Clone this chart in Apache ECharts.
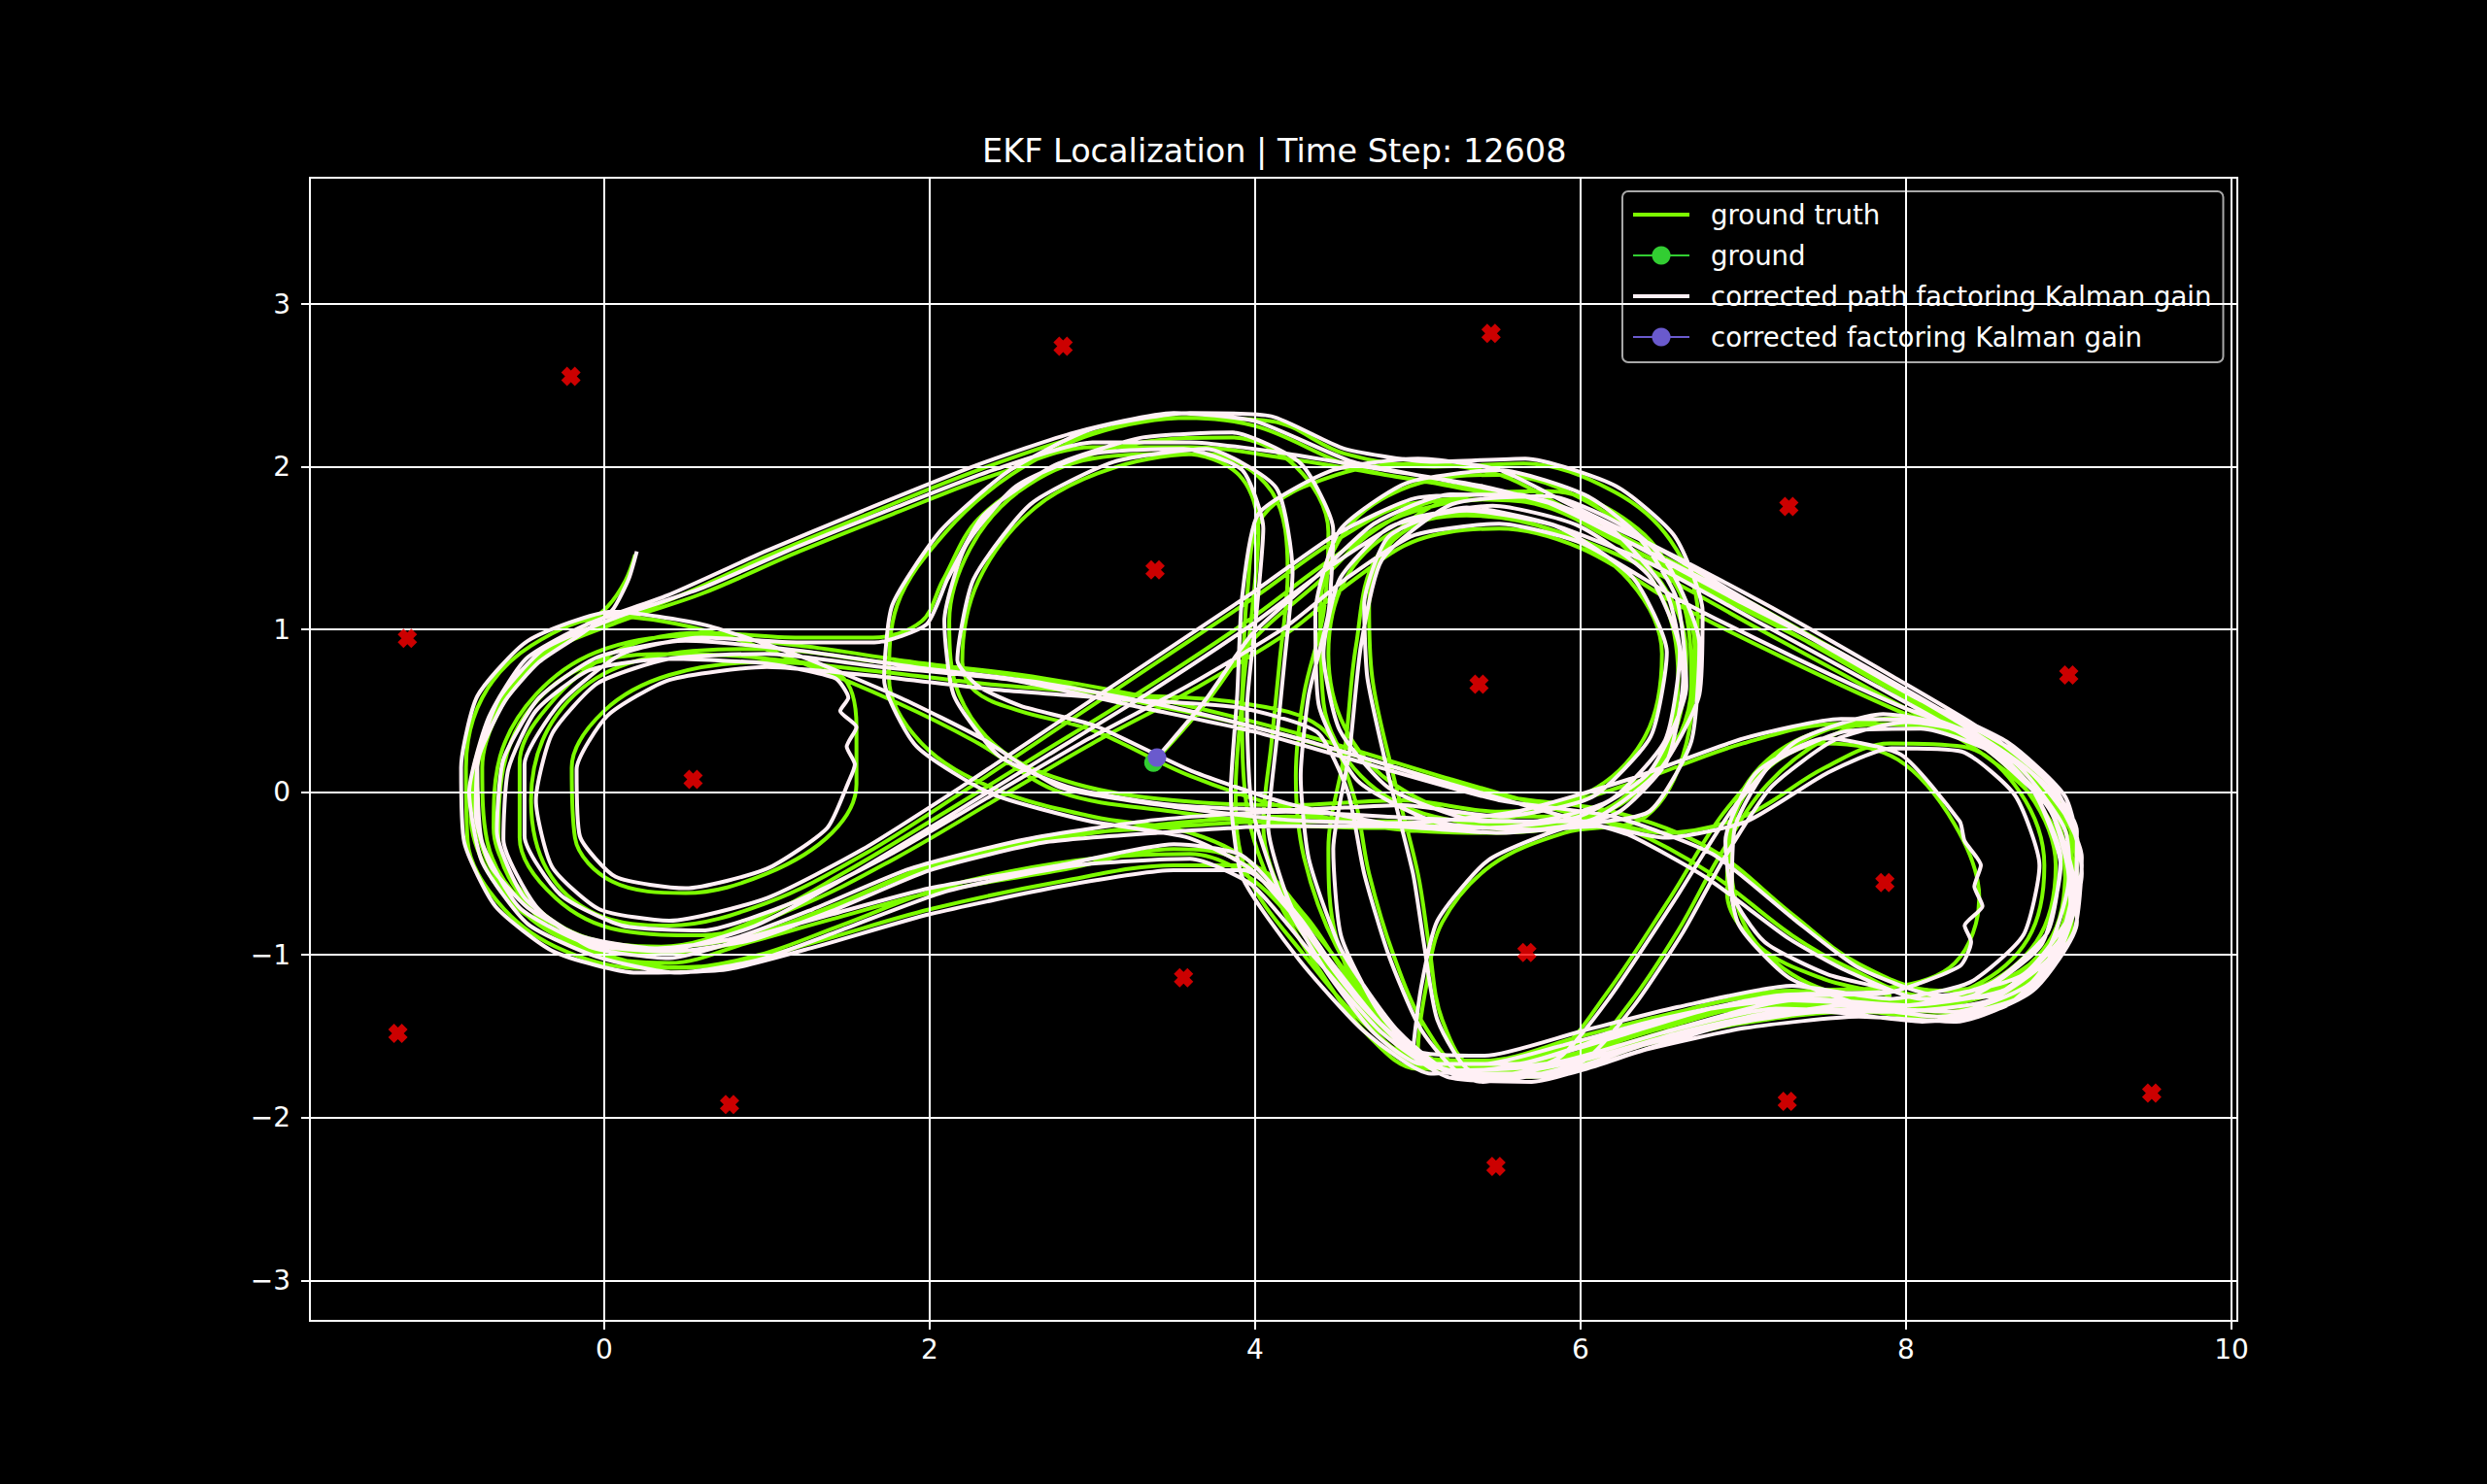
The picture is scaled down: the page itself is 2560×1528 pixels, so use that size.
<!DOCTYPE html>
<html>
<head>
<meta charset="utf-8">
<script src="https://cdn.jsdelivr.net/npm/echarts@6/dist/echarts.min.js"></script>
<style>
html,body{margin:0;padding:0;background:#000;}
#chart{width:2560px;height:1528px;}
</style>
</head>
<body>
<div id="chart"></div>
<script>
const titleText = 'EKF Localization | Time Step: 12608';
const xTicks = [0, 2, 4, 6, 8, 10];
const yTicks = [-3, -2, -1, 0, 1, 2, 3];
const legendNames = ['ground truth', 'ground', 'corrected path factoring Kalman gain', 'corrected factoring Kalman gain'];

const landmarks = [[-0.205,2.556],[2.82,2.74],[5.45,2.82],[7.28,1.756],[9.0,0.72],[-1.21,0.946],[0.546,0.078],[3.385,1.366],[5.376,0.663],[7.87,-0.556],[-1.268,-1.483],[0.77,-1.92],[3.56,-1.14],[5.67,-0.985],[5.48,-2.30],[7.27,-1.90],[9.51,-1.85]];

const groundNow = [[3.375,0.182]];
const correctedNow = [[3.397,0.213]];

const gtLap1 = [[0.19,1.46],[0.13,1.30],[0.02,1.14],[-0.15,1.00],[-0.42,0.82],[-0.64,0.55],[-0.79,0.20],[-0.82,-0.15],[-0.72,-0.48],[-0.50,-0.74],[-0.15,-0.92],[0.30,-0.99],[0.80,-0.93],[1.30,-0.75],[1.90,-0.50],[2.60,-0.32],[3.40,-0.20],[4.20,-0.15],[5.00,-0.20],[5.70,-0.22],[6.20,-0.08],[6.55,0.30],[6.65,0.85],[6.45,1.35],[6.00,1.68],[5.45,1.80],[4.90,1.70],[4.45,1.42],[3.95,1.05],[3.30,0.62],[2.70,0.25],[2.10,-0.12],[1.50,-0.48],[0.90,-0.80],[0.35,-0.95],[-0.15,-0.88],[-0.50,-0.62],[-0.68,-0.22],[-0.64,0.22],[-0.42,0.60],[-0.05,0.86],[0.50,0.96],[1.20,0.90],[1.90,0.80],[2.70,0.70],[3.50,0.55],[4.30,0.35],[5.20,0.08],[5.90,-0.12],[6.30,-0.23],[6.80,-0.50],[7.30,-0.88],[7.65,-1.08],[8.10,-1.25],[8.55,-1.22],[8.90,-0.95],[9.03,-0.52],[8.92,-0.10],[8.60,0.25],[8.10,0.42],[7.60,0.40],[7.15,0.20],[6.92,-0.20],[6.90,-0.62],[7.10,-0.95],[7.50,-1.15],[7.90,-1.25]];
const gtLap2 = [[7.20,-1.28],[6.50,-1.42],[5.90,-1.58],[5.40,-1.70],[5.00,-1.70],[4.70,-1.50],[4.40,-1.10],[4.12,-0.62],[3.95,-0.10],[3.92,0.50],[3.98,1.10],[4.02,1.60],[3.90,1.95],[3.55,2.08],[3.00,2.05],[2.55,1.85],[2.25,1.50],[2.12,1.05],[2.18,0.60],[2.45,0.25],[2.90,0.05],[3.50,-0.05],[4.20,-0.08],[4.90,-0.05],[5.50,-0.12],[6.05,0.00],[6.40,0.35],[6.50,0.85],[6.30,1.30],[5.85,1.60],[5.30,1.70],[4.85,1.60],[4.55,1.30],[4.45,0.85],[4.55,0.40],[4.85,0.05],[5.40,-0.15],[6.00,-0.15],[6.45,0.15],[6.70,0.60],[6.72,1.10],[6.55,1.55],[6.20,1.85],[5.65,2.02],[5.10,2.00],[4.55,2.08],[4.10,2.28],[3.60,2.30],[3.00,2.20],[2.50,1.95],[2.10,1.60],[1.80,1.15],[1.75,0.70],[1.95,0.30],[2.40,0.02],[3.00,-0.15],[3.60,-0.25],[4.00,-0.45],[4.40,-0.90],[4.80,-1.40],[5.20,-1.68],[5.80,-1.65],[6.50,-1.45],[7.20,-1.30],[7.90,-1.32],[8.50,-1.25],[8.88,-0.98],[9.00,-0.55],[8.85,-0.12],[8.45,0.25],[7.80,0.62],[7.10,1.00],[6.40,1.38],[5.80,1.62],[5.30,1.72],[4.85,1.55],[4.70,1.15],[4.72,0.70],[4.85,0.10],[5.00,-0.50],[5.07,-0.95],[5.15,-1.40],[5.35,-1.68],[5.90,-1.62],[6.60,-1.42],[7.30,-1.25],[8.00,-1.28],[8.60,-1.18],[8.95,-0.85],[9.05,-0.45],[8.90,-0.02],[8.50,0.32],[7.90,0.68],[7.20,1.08],[6.50,1.45],[5.95,1.70],[5.40,1.85],[4.80,1.95],[4.20,2.05],[3.60,2.12],[3.00,2.12],[2.40,1.95],[1.80,1.72],[1.20,1.48],[0.60,1.22],[0.10,1.05],[-0.35,0.85],[-0.62,0.55],[-0.75,0.15],[-0.72,-0.30],[-0.50,-0.68],[-0.10,-0.90],[0.40,-0.95],[0.90,-0.88],[1.40,-0.70],[2.00,-0.45],[2.70,-0.28],[3.40,-0.22]];
const gtLap3 = [[4.10,-0.18],[4.80,-0.18],[5.50,-0.22],[6.10,-0.18],[6.50,-0.25],[7.00,-0.15],[7.50,0.15],[7.90,0.30],[8.35,0.28],[8.70,0.00],[8.85,-0.45],[8.75,-0.90],[8.40,-1.20],[7.90,-1.30],[7.30,-1.22],[6.60,-1.35],[6.00,-1.50],[5.40,-1.65],[4.95,-1.62],[4.60,-1.30],[4.25,-0.80],[3.90,-0.42],[3.50,-0.35],[2.80,-0.48],[2.00,-0.62],[1.40,-0.78],[0.90,-0.92],[0.40,-1.05],[-0.10,-0.98],[-0.45,-0.72],[-0.65,-0.30],[-0.62,0.15],[-0.45,0.52],[-0.10,0.78],[0.40,0.85],[1.00,0.82],[1.45,0.72],[1.55,0.40],[1.55,0.05],[1.40,-0.25],[1.00,-0.50],[0.50,-0.62],[0.05,-0.55],[-0.18,-0.28],[-0.20,0.15],[0.00,0.50],[0.40,0.72],[1.00,0.80],[1.70,0.74],[2.40,0.66],[3.20,0.60],[3.90,0.55],[4.40,0.40],[4.60,0.00],[4.70,-0.50],[4.85,-1.00],[5.05,-1.45],[5.30,-1.70],[5.80,-1.70],[6.40,-1.52],[7.00,-1.38],[7.60,-1.28],[8.20,-1.35],[8.70,-1.22],[9.00,-0.85],[9.05,-0.40],[8.85,0.00],[8.45,0.30],[7.95,0.50],[7.30,0.80],[6.60,1.15],[6.00,1.50],[5.50,1.62],[5.00,1.55],[4.60,1.30],[4.20,0.98],[3.60,0.62],[3.00,0.30],[2.40,-0.05],[1.80,-0.40],[1.20,-0.70],[0.60,-0.88],[0.10,-0.85],[-0.30,-0.65],[-0.52,-0.28],[-0.52,0.18],[-0.30,0.58],[0.10,0.88],[0.60,0.98],[1.20,0.95],[1.65,0.95],[1.95,1.05]];
const gtLap4 = [[2.08,1.30],[2.30,1.68],[2.75,1.98],[3.30,2.15],[3.85,2.18],[4.25,2.00],[4.45,1.60],[4.42,1.10],[4.30,0.60],[4.25,0.10],[4.30,-0.40],[4.50,-0.95],[4.85,-1.45],[5.25,-1.72],[5.80,-1.72],[6.40,-1.55],[7.00,-1.42],[7.70,-1.35],[8.30,-1.38],[8.75,-1.20],[9.02,-0.80],[9.02,-0.30],[8.75,0.10],[8.30,0.40],[7.70,0.75],[7.00,1.15],[6.40,1.50],[5.90,1.75],[5.50,1.95],[5.00,2.02],[4.50,1.95],[4.05,1.70],[3.95,1.20],[3.92,0.60],[3.88,0.00],[3.95,-0.50],[4.30,-1.00],[4.70,-1.45],[5.10,-1.70],[5.60,-1.65],[6.20,-1.48],[6.80,-1.30],[7.40,-1.22],[7.90,-1.20],[8.30,-1.05],[8.45,-0.65],[8.30,-0.20],[7.95,0.20],[7.50,0.30],[7.10,0.10],[6.92,-0.30],[7.00,-0.80],[7.30,-1.12],[7.75,-1.28],[8.30,-1.32],[8.75,-1.15],[8.98,-0.72],[8.95,-0.25],[8.65,0.15],[8.15,0.40],[7.60,0.42],[7.00,0.30],[6.30,0.05],[5.60,-0.15],[4.90,-0.22],[4.20,-0.20],[3.50,-0.12],[2.80,0.00],[2.30,0.30]];
const gtLap6 = [[1.80,0.55],[1.20,0.80],[0.60,1.00],[0.05,1.08],[-0.45,0.90],[-0.75,0.58],[-0.85,0.15],[-0.84,-0.30],[-0.65,-0.68],[-0.30,-0.95],[0.20,-1.08],[0.75,-1.06],[1.30,-0.92],[2.00,-0.72],[2.80,-0.55],[3.50,-0.45],[3.95,-0.45],[4.30,-0.75],[4.65,-1.25],[5.05,-1.62],[5.50,-1.74],[6.00,-1.62],[6.30,-1.30],[6.60,-0.85],[6.85,-0.40],[7.15,0.05],[7.55,0.35],[8.00,0.46],[8.45,0.38],[8.80,0.05],[8.98,-0.40],[8.90,-0.88],[8.55,-1.20],[8.00,-1.34],[7.40,-1.30],[6.80,-1.36],[6.20,-1.52],[5.60,-1.70],[5.10,-1.70],[4.75,-1.40],[4.50,-0.90],[4.45,-0.35],[4.55,0.25],[4.62,0.90],[4.75,1.45],[5.20,1.80],[5.80,1.85],[6.35,1.62],[6.62,1.20],[6.68,0.65],[6.45,0.10],[6.00,-0.18],[5.40,-0.25],[4.80,-0.22],[4.20,-0.10],[3.60,0.10],[3.00,0.38],[2.55,0.50],[2.28,0.62]];
const gtLap5 = [[2.20,0.80],[2.30,1.30],[2.65,1.75],[3.15,2.00],[3.70,2.08],[4.10,1.85],[4.20,1.35],[4.15,0.80],[4.10,0.30],[4.05,-0.20],[4.20,-0.70],[4.55,-1.20],[4.95,-1.58],[5.40,-1.75],[5.85,-1.60],[6.15,-1.25],[6.55,-0.65],[6.90,-0.10],[7.30,0.28],[7.85,0.45],[8.35,0.35],[8.75,0.00],[8.92,-0.45],[8.80,-0.92],[8.40,-1.22],[7.80,-1.30],[7.20,-1.32],[6.60,-1.45],[6.00,-1.62],[5.40,-1.72],[5.00,-1.60],[5.05,-1.20],[5.15,-0.80],[5.45,-0.45],[5.90,-0.25],[6.40,-0.15],[6.65,0.30],[6.70,0.90],[6.50,1.40],[6.05,1.78],[5.50,1.95],[4.95,1.88],[4.55,1.60],[4.40,1.10],[4.42,0.55],[4.65,0.10],[5.10,-0.15],[5.70,-0.20],[6.20,-0.10],[6.50,0.20],[6.60,0.70],[6.50,1.20],[6.15,1.60],[5.60,1.80],[5.00,1.78],[4.50,1.55],[4.00,1.20],[3.40,0.80],[2.80,0.40],[2.20,0.00],[1.60,-0.38],[1.00,-0.68],[0.40,-0.82],[-0.05,-0.75],[-0.35,-0.48],[-0.45,-0.05],[-0.35,0.38],[-0.05,0.70],[0.40,0.85],[1.00,0.88],[1.70,0.80],[2.50,0.72],[3.30,0.55],[4.00,0.40],[4.70,0.20],[5.50,-0.02],[6.20,-0.12],[6.80,-0.35],[7.30,-0.75],[7.70,-1.05],[8.20,-1.22],[8.70,-1.10],[9.00,-0.70],[9.02,-0.25],[8.75,0.15],[8.25,0.45],[7.60,0.82],[6.95,1.15],[6.30,1.50],[5.80,1.75],[5.20,1.88],[4.60,2.00],[4.00,2.25],[3.50,2.30],[2.90,2.18],[2.30,1.98],[1.60,1.70],[1.00,1.45],[0.40,1.18],[-0.10,1.00],[-0.45,0.80],[-0.68,0.45],[-0.80,0.00],[-0.72,-0.42],[-0.45,-0.78],[-0.05,-0.98],[0.45,-1.08],[0.95,-1.00],[1.45,-0.82],[2.10,-0.58],[2.90,-0.42],[3.60,-0.38],[4.00,-0.55],[4.40,-1.00],[4.80,-1.45],[5.20,-1.72],[5.70,-1.75],[6.30,-1.58],[6.90,-1.40],[7.50,-1.32],[8.10,-1.38],[8.60,-1.28],[8.92,-0.95],[9.05,-0.50],[8.95,-0.05],[8.60,0.28],[8.05,0.55],[7.40,0.92],[6.80,1.25],[6.20,1.55],[5.70,1.78],[5.20,1.80],[4.75,1.62],[4.40,1.30],[4.00,0.95],[3.70,0.55],[3.375,0.182]];

const kfLap1 = [[0.20,1.48],[0.15,1.31],[0.05,1.12],[-0.13,0.98],[-0.40,0.80],[-0.61,0.56],[-0.77,0.22],[-0.79,-0.13],[-0.70,-0.45],[-0.47,-0.71],[-0.13,-0.89],[0.31,-0.96],[0.79,-0.90],[1.28,-0.72],[1.88,-0.47],[2.59,-0.29],[3.39,-0.17],[4.19,-0.12],[4.99,-0.16],[5.69,-0.18],[6.18,-0.05],[6.52,0.32],[6.61,0.86],[6.42,1.33],[5.98,1.64],[5.46,1.76],[4.92,1.67],[4.48,1.40],[3.98,1.03],[3.33,0.60],[2.73,0.23],[2.13,-0.14],[1.53,-0.50],[0.93,-0.82],[0.37,-0.97],[-0.13,-0.90],[-0.49,-0.65],[-0.66,-0.24],[-0.62,0.20],[-0.40,0.58],[-0.04,0.83],[0.50,0.93],[1.20,0.87],[1.90,0.77],[2.70,0.67],[3.50,0.52],[4.30,0.32],[5.20,0.05],[5.90,-0.15],[6.29,-0.26],[6.78,-0.53],[7.28,-0.90],[7.64,-1.10],[8.09,-1.27],[8.54,-1.25],[8.87,-0.97],[9.00,-0.53],[8.89,-0.12],[8.58,0.22],[8.09,0.39],[7.61,0.37],[7.17,0.17],[6.95,-0.21],[6.93,-0.60],[7.13,-0.92],[7.52,-1.12],[7.91,-1.22]];
const kfLap2 = [[7.21,-1.25],[6.51,-1.39],[5.91,-1.55],[5.41,-1.67],[5.02,-1.67],[4.73,-1.48],[4.43,-1.09],[4.15,-0.61],[3.98,-0.09],[3.95,0.51],[4.01,1.12],[4.05,1.62],[3.92,1.98],[3.56,2.11],[3.00,2.08],[2.53,1.88],[2.22,1.51],[2.09,1.05],[2.15,0.59],[2.43,0.22],[2.89,0.02],[3.50,-0.08],[4.20,-0.11],[4.90,-0.08],[5.50,-0.15],[6.07,-0.03],[6.43,0.34],[6.53,0.86],[6.32,1.32],[5.86,1.63],[5.30,1.73],[4.83,1.63],[4.52,1.31],[4.42,0.85],[4.52,0.38],[4.83,0.02],[5.40,-0.18],[6.02,-0.18],[6.48,0.13],[6.73,0.60],[6.75,1.11],[6.58,1.57],[6.22,1.88],[5.66,2.05],[5.10,2.03],[4.55,2.11],[4.10,2.31],[3.60,2.33],[2.99,2.23],[2.48,1.97],[2.07,1.61],[1.77,1.15],[1.72,0.69],[1.92,0.28],[2.38,-0.01],[2.99,-0.18],[3.59,-0.28],[3.98,-0.48],[4.37,-0.92],[4.77,-1.42],[5.18,-1.71],[5.80,-1.68],[6.50,-1.48],[7.20,-1.33],[7.90,-1.35],[8.51,-1.28],[8.91,-0.99],[9.03,-0.55],[8.88,-0.10],[8.47,0.28],[7.82,0.65],[7.12,1.03],[6.42,1.41],[5.81,1.65],[5.30,1.75],[4.82,1.57],[4.67,1.15],[4.69,0.70],[4.82,0.10],[4.97,-0.50],[5.04,-0.95],[5.12,-1.40],[5.33,-1.71],[5.90,-1.65],[6.60,-1.45],[7.30,-1.28],[8.00,-1.31],[8.62,-1.21],[8.98,-0.86],[9.08,-0.45],[8.93,0.00],[8.52,0.35],[7.92,0.71],[7.22,1.11],[6.52,1.48],[5.96,1.73],[5.40,1.88],[4.80,1.98],[4.20,2.08],[3.60,2.15],[3.00,2.15],[2.39,1.98],[1.79,1.75],[1.19,1.51],[0.59,1.25],[0.09,1.08],[-0.37,0.88],[-0.65,0.57],[-0.78,0.15],[-0.75,-0.31],[-0.52,-0.71],[-0.11,-0.93],[0.40,-0.98],[0.90,-0.91],[1.40,-0.73],[2.00,-0.48],[2.70,-0.31],[3.40,-0.25]];
const kfLap3 = [[4.10,-0.21],[4.80,-0.21],[5.50,-0.25],[6.10,-0.21],[6.52,-0.28],[7.02,-0.18],[7.52,0.12],[7.91,0.27],[8.34,0.25],[8.67,-0.02],[8.82,-0.45],[8.72,-0.88],[8.39,-1.17],[7.90,-1.27],[7.30,-1.19],[6.60,-1.32],[6.00,-1.47],[5.41,-1.62],[4.98,-1.59],[4.63,-1.28],[4.28,-0.78],[3.92,-0.39],[3.50,-0.32],[2.80,-0.45],[2.00,-0.59],[1.40,-0.75],[0.90,-0.89],[0.40,-1.02],[-0.09,-0.95],[-0.42,-0.70],[-0.62,-0.29],[-0.59,0.14],[-0.42,0.50],[-0.09,0.75],[0.40,0.82],[1.00,0.79],[1.42,0.70],[1.50,0.58],[1.45,0.50],[1.55,0.40],[1.49,0.28],[1.54,0.17],[1.50,0.06],[1.37,-0.22],[1.00,-0.47],[0.50,-0.59],[0.07,-0.52],[-0.15,-0.27],[-0.17,0.14],[0.02,0.47],[0.40,0.69],[1.00,0.77],[1.70,0.71],[2.40,0.63],[3.20,0.57],[3.90,0.52],[4.38,0.37],[4.57,0.00],[4.67,-0.50],[4.82,-1.00],[5.02,-1.46],[5.28,-1.73],[5.80,-1.73],[6.40,-1.55],[7.00,-1.41],[7.60,-1.31],[8.20,-1.38],[8.72,-1.25],[9.03,-0.86],[9.08,-0.40],[8.88,0.02],[8.47,0.33],[7.96,0.53],[7.31,0.83],[6.61,1.18],[6.01,1.53],[5.50,1.65],[4.98,1.58],[4.57,1.32],[4.18,1.01],[3.58,0.65],[2.98,0.33],[2.38,-0.02],[1.78,-0.37],[1.18,-0.67],[0.60,-0.85],[0.11,-0.82],[-0.27,-0.63],[-0.49,-0.27],[-0.49,0.17],[-0.27,0.55],[0.11,0.85],[0.60,0.95],[1.20,0.92],[1.66,0.92],[1.98,1.03]];
const kfLap4 = [[2.11,1.31],[2.33,1.70],[2.77,2.01],[3.31,2.18],[3.86,2.21],[4.28,2.02],[4.48,1.61],[4.45,1.10],[4.33,0.60],[4.28,0.10],[4.33,-0.41],[4.53,-0.97],[4.88,-1.47],[5.27,-1.75],[5.81,-1.75],[6.41,-1.58],[7.01,-1.45],[7.71,-1.38],[8.31,-1.41],[8.78,-1.22],[9.05,-0.80],[9.05,-0.29],[8.77,0.12],[8.32,0.43],[7.72,0.78],[7.02,1.18],[6.42,1.53],[5.91,1.78],[5.50,1.98],[5.00,2.05],[4.48,1.98],[4.02,1.71],[3.92,1.20],[3.89,0.60],[3.85,0.00],[3.92,-0.52],[4.27,-1.03],[4.67,-1.47],[5.08,-1.73],[5.60,-1.68],[6.20,-1.51],[6.80,-1.33],[7.40,-1.25],[7.90,-1.23],[8.33,-1.07],[8.40,-0.92],[8.36,-0.82],[8.47,-0.70],[8.42,-0.58],[8.46,-0.45],[8.36,-0.30],[8.33,-0.18],[7.97,0.23],[7.50,0.33],[7.08,0.12],[6.89,-0.30],[6.97,-0.81],[7.28,-1.14],[7.75,-1.31],[8.30,-1.35],[8.77,-1.17],[9.01,-0.72],[8.98,-0.24],[8.67,0.18],[8.16,0.43],[7.60,0.45],[7.00,0.33],[6.30,0.08],[5.60,-0.12],[4.90,-0.19],[4.20,-0.17],[3.50,-0.09],[2.80,0.03],[2.32,0.33]];
const kfLap6 = [[1.82,0.58],[1.22,0.83],[0.61,1.03],[0.05,1.11],[-0.47,0.93],[-0.78,0.59],[-0.88,0.15],[-0.86,-0.31],[-0.67,-0.70],[-0.31,-0.98],[0.20,-1.11],[0.75,-1.09],[1.30,-0.95],[2.00,-0.75],[2.80,-0.58],[3.50,-0.48],[3.93,-0.48],[4.27,-0.77],[4.62,-1.27],[5.03,-1.65],[5.50,-1.77],[6.02,-1.65],[6.33,-1.31],[6.63,-0.86],[6.88,-0.41],[7.17,0.03],[7.56,0.32],[8.00,0.43],[8.43,0.35],[8.77,0.03],[8.95,-0.40],[8.87,-0.86],[8.53,-1.17],[8.00,-1.31],[7.40,-1.27],[6.80,-1.33],[6.20,-1.49],[5.60,-1.67],[5.12,-1.67],[4.78,-1.38],[4.53,-0.89],[4.48,-0.35],[4.58,0.25],[4.65,0.90],[4.78,1.43],[5.21,1.77],[5.80,1.82],[6.33,1.59],[6.59,1.19],[6.65,0.65],[6.42,0.12],[5.99,-0.15],[5.40,-0.22],[4.80,-0.19],[4.20,-0.07],[3.61,0.13],[3.01,0.41],[2.56,0.53],[2.30,0.65]];
const kfLap5 = [[2.17,0.81],[2.27,1.31],[2.62,1.77],[3.13,2.03],[3.70,2.11],[4.13,1.87],[4.23,1.35],[4.18,0.80],[4.13,0.30],[4.08,-0.21],[4.23,-0.72],[4.58,-1.22],[4.97,-1.61],[5.40,-1.78],[5.87,-1.63],[6.18,-1.26],[6.58,-0.66],[6.93,-0.11],[7.32,0.31],[7.86,0.48],[8.37,0.37],[8.78,0.01],[8.95,-0.45],[8.83,-0.94],[8.41,-1.25],[7.80,-1.33],[7.20,-1.35],[6.60,-1.48],[6.00,-1.65],[5.39,-1.75],[4.97,-1.61],[5.02,-1.20],[5.12,-0.79],[5.43,-0.42],[5.90,-0.22],[6.42,-0.12],[6.68,0.31],[6.73,0.91],[6.52,1.42],[6.06,1.81],[5.50,1.98],[4.93,1.90],[4.52,1.61],[4.37,1.10],[4.39,0.54],[4.63,0.07],[5.10,-0.18],[5.70,-0.23],[6.22,-0.13],[6.53,0.19],[6.63,0.70],[6.53,1.22],[6.17,1.63],[5.60,1.83],[5.00,1.81],[4.49,1.58],[3.99,1.23],[3.39,0.83],[2.79,0.43],[2.19,0.03],[1.59,-0.35],[1.00,-0.65],[0.40,-0.79],[-0.03,-0.72],[-0.32,-0.46],[-0.42,-0.05],[-0.32,0.36],[-0.04,0.67],[0.40,0.82],[1.00,0.85],[1.70,0.77],[2.50,0.69],[3.30,0.52],[4.00,0.37],[4.70,0.17],[5.50,-0.05],[6.20,-0.15],[6.81,-0.38],[7.31,-0.78],[7.71,-1.08],[8.20,-1.25],[8.72,-1.12],[9.03,-0.70],[9.05,-0.24],[8.77,0.18],[8.26,0.48],[7.61,0.85],[6.96,1.18],[6.31,1.53],[5.81,1.78],[5.20,1.91],[4.60,2.03],[4.00,2.28],[3.50,2.33],[2.89,2.21],[2.29,2.01],[1.59,1.73],[0.99,1.48],[0.39,1.21],[-0.11,1.03],[-0.48,0.82],[-0.71,0.46],[-0.83,0.00],[-0.75,-0.43],[-0.47,-0.81],[-0.05,-1.01],[0.45,-1.11],[0.95,-1.03],[1.45,-0.85],[2.10,-0.61],[2.90,-0.45],[3.60,-0.41],[3.98,-0.57],[4.37,-1.02],[4.77,-1.47],[5.18,-1.75],[5.70,-1.78],[6.30,-1.61],[6.90,-1.43],[7.50,-1.35],[8.10,-1.41],[8.62,-1.31],[8.95,-0.96],[9.08,-0.50],[8.98,-0.03],[8.62,0.31],[8.06,0.58],[7.41,0.95],[6.81,1.28],[6.21,1.58],[5.71,1.81],[5.20,1.83],[4.73,1.65],[4.37,1.32],[3.98,0.97],[3.69,0.56],[3.397,0.213]];

const groundTruth = [].concat(gtLap1, gtLap2, gtLap3, gtLap4, gtLap6, gtLap5);
const correctedPath = [].concat(kfLap1, kfLap2, kfLap3, kfLap4, kfLap6, kfLap5);

const FONT = 'DejaVu Sans';
const minus = v => (v < 0 ? '\u2212' + Math.abs(v) : String(v));
const xSymbol = 'path://M0,3 L3,0 L5,2 L7,0 L10,3 L8,5 L10,7 L7,10 L5,8 L3,10 L0,7 L2,5 Z';
const lineIcon = 'path://M0,0 L58,0 L58,4 L0,4 Z';

const chart = echarts.init(document.getElementById('chart'), null, {renderer: 'svg', width: 2560, height: 1528});
const gridLines = [].concat(xTicks.map(v => ({xAxis: v})), yTicks.map(v => ({yAxis: v})));

chart.setOption({
  backgroundColor: '#000000',
  animation: false,
  title: {
    text: titleText,
    left: 1011, top: 138, padding: 0,
    textStyle: {color: '#ffffff', fontSize: 33.5, fontWeight: 'normal', fontFamily: FONT}
  },
  legend: {
    orient: 'vertical',
    left: 1670, top: 197,
    padding: [10, 12, 12, 10],
    itemWidth: 58, itemHeight: 24, itemGap: 14,
    selectedMode: false,
    backgroundColor: 'rgba(0,0,0,0.8)',
    borderColor: '#a8a8a8', borderWidth: 2, borderRadius: 6,
    textStyle: {color: '#ffffff', fontSize: 27.6, fontFamily: FONT, lineHeight: 28, padding: [0, 0, 0, 17]},
    data: [
      {name: legendNames[0], icon: lineIcon},
      {name: legendNames[1]},
      {name: legendNames[2], icon: lineIcon},
      {name: legendNames[3]}
    ]
  },
  grid: {left: 319, top: 183, width: 1984, height: 1177, show: true, borderColor: '#ffffff', borderWidth: 2, backgroundColor: '#000000', containLabel: false},
  xAxis: {
    type: 'value', min: -1.809, max: 10.036,
    splitLine: {show: false},
    axisLine: {show: true, onZero: false, lineStyle: {color: '#ffffff', width: 2}},
    axisTick: {show: true, customValues: xTicks, length: 9, lineStyle: {color: '#ffffff', width: 2}},
    axisLabel: {show: true, customValues: xTicks, color: '#ffffff', fontSize: 28, fontFamily: FONT, margin: 15, formatter: minus}
  },
  yAxis: {
    type: 'value', min: -3.249, max: 3.776,
    splitLine: {show: false},
    axisLine: {show: true, onZero: false, lineStyle: {color: '#ffffff', width: 2}},
    axisTick: {show: true, customValues: yTicks, length: 9, lineStyle: {color: '#ffffff', width: 2}},
    axisLabel: {show: true, customValues: yTicks, color: '#ffffff', fontSize: 28, fontFamily: FONT, margin: 20, formatter: minus}
  },
  series: [
    {
      type: 'scatter', name: 'gridlines', data: [[-1.7, -3.1]], symbolSize: 0, silent: true, z: 1,
      markLine: {silent: true, symbol: ['none', 'none'], label: {show: false}, animation: false,
        lineStyle: {color: '#ffffff', width: 2, type: 'solid', opacity: 1}, data: gridLines}
    },
    {
      type: 'line', name: 'ground truth', data: groundTruth, showSymbol: false, symbol: 'none',
      smooth: 0.35, color: '#7CFC00', itemStyle: {color: '#7CFC00'}, lineStyle: {color: '#7CFC00', width: 4}, z: 3
    },
    {
      type: 'line', name: 'ground', data: groundNow, symbol: 'circle', symbolSize: 19, showSymbol: true,
      color: '#32CD32', itemStyle: {color: '#32CD32'}, lineStyle: {color: '#32CD32', width: 4}, z: 4
    },
    {
      type: 'line', name: 'corrected path factoring Kalman gain', data: correctedPath, showSymbol: false, symbol: 'none',
      smooth: 0.2, color: '#FFF0F5', itemStyle: {color: '#FFF0F5'}, lineStyle: {color: '#FFF0F5', width: 4}, z: 5
    },
    {
      type: 'line', name: 'corrected factoring Kalman gain', data: correctedNow, symbol: 'circle', symbolSize: 19, showSymbol: true,
      color: '#6A5ACD', itemStyle: {color: '#6A5ACD'}, lineStyle: {color: '#6A5ACD', width: 4}, z: 6
    },
    {
      type: 'scatter', name: 'landmarks', data: landmarks, symbol: xSymbol, symbolSize: 20,
      itemStyle: {color: '#ff0000'}, z: 7
    }
  ]
});
</script>
</body>
</html>
